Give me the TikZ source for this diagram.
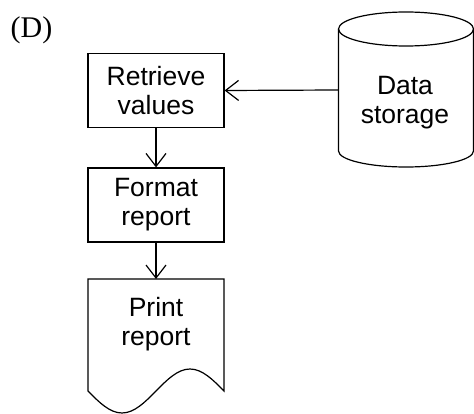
\documentclass[tikz,border=0pt]{standalone}
\usepackage{fontspec}
\setmainfont{Liberation Sans}
\newfontfamily\labelserif{Liberation Serif}
\usetikzlibrary{arrows.meta}
\begin{document}
\begin{tikzpicture}[x=1pt,y=-1pt,line width=1.2pt,
  procbox/.style={draw,minimum width=136pt,minimum height=74pt,inner sep=0pt,align=center,
    font=\fontsize{26.5}{29}\selectfont},
  flowarrow/.style={-{Straight Barb[length=13pt,width=20pt]}},
  txt/.style={align=center,font=\fontsize{26.5}{29}\selectfont}]
\useasboundingbox (0,0) rectangle (474,414);
% label
\node[font=\labelserif\fontsize{30}{32}\selectfont,anchor=base] (lbl) at (31.5,38) {(D)};
% process boxes
\node[procbox] (retr) at (156,90.5) {Retrieve\\values};
\node[procbox] (fmt) at (156,205) {Format\\report};
% document shape
\draw (88,391) -- (88,279) -- (224,279) -- (224,391)
  sin (190,369) cos (156,391) sin (122,413) cos (88,391) -- cycle;
\node[txt] (prt) at (156,324) {Print\\report};
\coordinate (prttop) at (156,279);
% cylinder
\draw (406,29) ellipse [x radius=67.5pt,y radius=17pt];
\draw (338.5,29) -- (338.5,151) arc[start angle=180,end angle=360,x radius=67.5pt,y radius=16pt]
  -- (473.5,29);
\node[minimum width=135pt,minimum height=120pt,inner sep=0pt] (store) at (406,90) {};
\node[txt] (storetxt) at (405,103) {Data\\storage};
% connectors
\draw[flowarrow] (store.west) -- (retr.east);
\draw[flowarrow] (retr.south) -- (fmt.north);
\draw[flowarrow] (fmt.south) -- (prttop);
\end{tikzpicture}
\end{document}
